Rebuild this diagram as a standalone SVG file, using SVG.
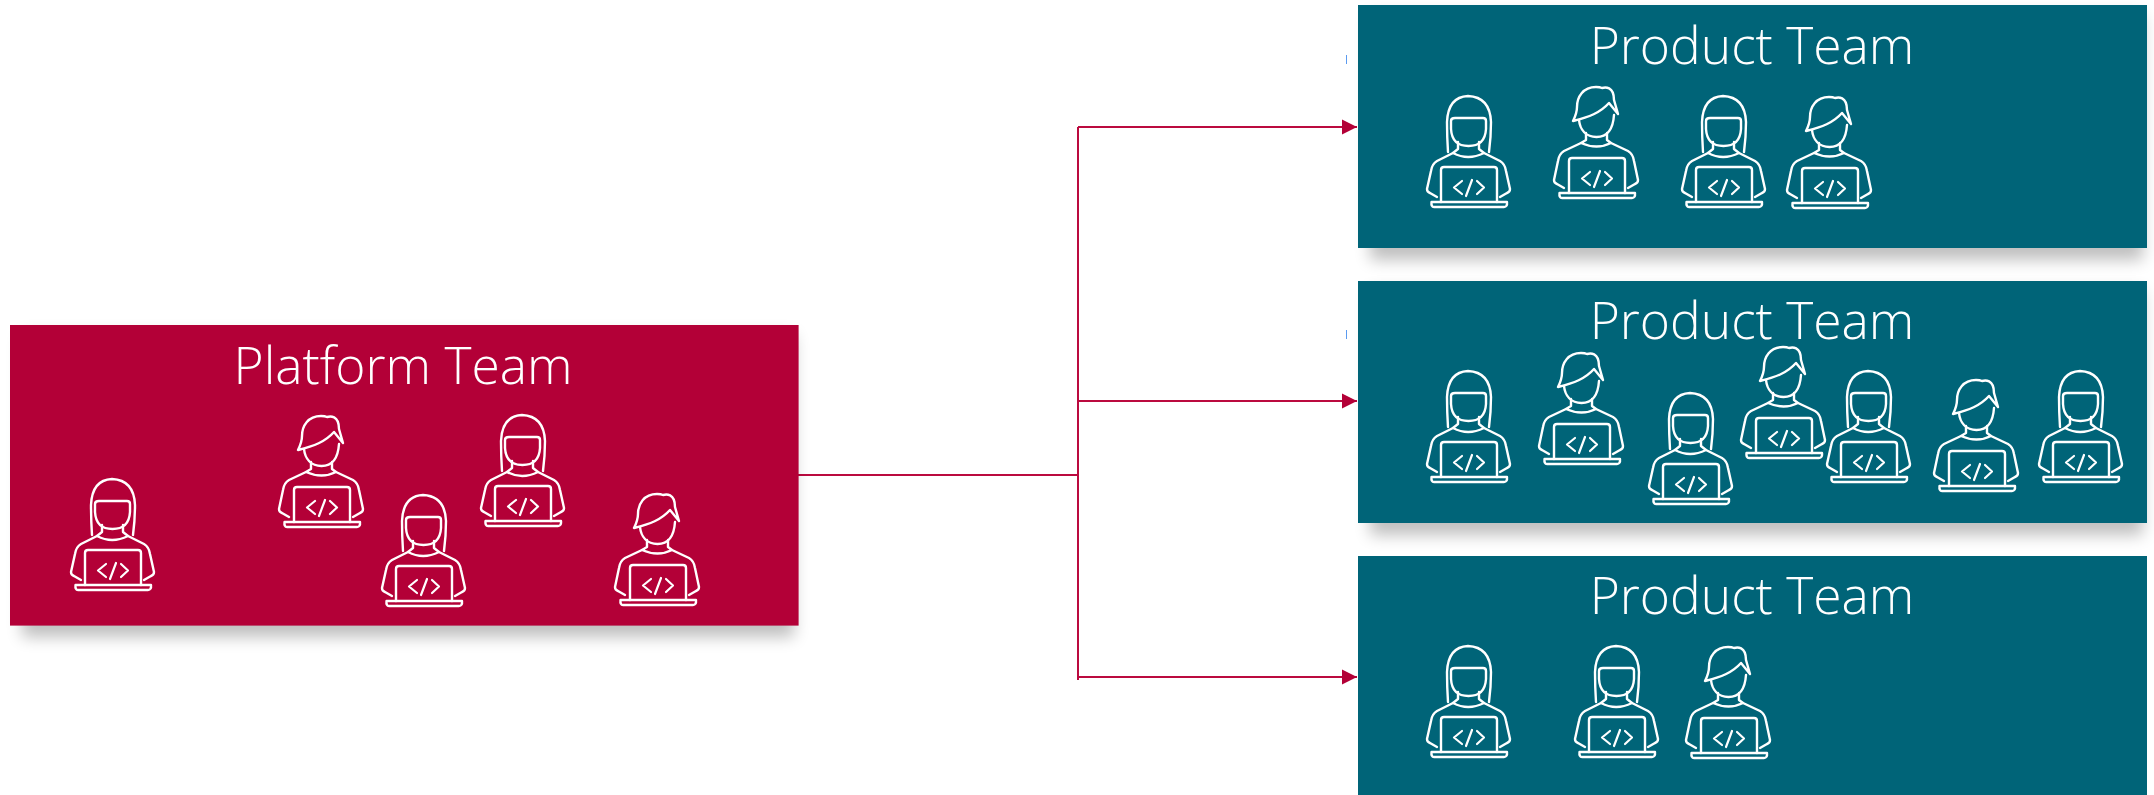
<svg xmlns="http://www.w3.org/2000/svg" width="2154" height="795" viewBox="0 0 2154 795">
<style>
.title{font-family:"Open Sans","Noto Sans",sans-serif;font-weight:300;font-size:51.500px;fill:#fff;text-anchor:middle}
.ic{fill:none;stroke:#fff;stroke-width:2.400;stroke-linecap:round;stroke-linejoin:round}
.plat{fill:#b30037}
.prod{fill:#006478}
.conn{fill:none;stroke:#bb0a3f;stroke-width:2}
.tick{stroke:#5b9bf0;stroke-width:1}
.shadow{fill:#000;opacity:.25}
</style>
<defs>
<filter id="sh" x="-5%" y="-10%" width="110%" height="130%"><feGaussianBlur stdDeviation="8"/></filter>
<marker id="ah" markerUnits="userSpaceOnUse" markerWidth="16" markerHeight="16" refX="15" refY="8" orient="auto"><path d="M0 0.500L15 8L0 15.500Z" fill="#b30037"/></marker>
<g id="laptop">
<path d="M35 125V93Q35 90 38 90H88Q91 90 91 93V125"/>
<path d="M25.500 125H101Q101.500 130 98 130H28Q25 130 25.500 125Z"/>
<path d="M56 104L48 110.500L56 117M60 119L66 103M71 104L78 110.500L71 117" stroke-width="2.200"/>
</g>
<g id="girl" class="ic">
<path d="M42 75Q41 60 41 45Q42 20 62 19Q84 20 85 45Q85 60 83 75"/>
<path d="M49 41H77Q80 41 80 44V52Q79 69 62.500 69Q46 69 45 52V44Q45 41 49 41Z"/>
<path d="M52 65V72L47 76Q62 84 78 76L73 72V65"/>
<path d="M47 76L31 84Q26 87 25 94L21 112Q21 115 24 116L31 120M78 76L94 84Q99 87 100 94L104 112Q104 115 101 116L94 120"/>
<use href="#laptop"/>
</g>
<g id="guy" class="ic">
<path d="M33 41C49 37 60 33 69 23L78 34L74 20C74 6 65 7 62 8Q60 7 56 7C43 7 37 17 37 27C37 32 35 37 33 41Z"/>
<path d="M39 40C40 50 46 57 56.500 57C67 57 73 50 74 35"/>
<path d="M46 53V60L41 63Q57 70 71 63L67 60V53"/>
<path d="M41 63L24 71Q19 74 18 81L14 100Q14 103 17 104L24 108M71 63L88 71Q93 74 94 81L98 100Q98 103 95 104L88 108"/>
<use href="#laptop" transform="translate(-6 -12)"/>
</g>
</defs>
<g id="connectors">
<path class="conn" d="M798 475H1078"/>
<path class="conn" d="M1078 127V680"/>
<path class="conn" d="M1078 127H1357" marker-end="url(#ah)"/>
<path class="conn" d="M1078 401H1357" marker-end="url(#ah)"/>
<path class="conn" d="M1078 677H1357" marker-end="url(#ah)"/>
<path class="tick" d="M1346.500 55V64M1346.500 330V339"/>
</g>
<g id="platform-team">
<rect class="shadow" x="22" y="335" width="772" height="302" filter="url(#sh)"/>
<rect class="plat" x="10" y="325" width="788.600" height="300.600"/>
<text class="title" x="403" y="383.500">Platform Team</text>
<use href="#girl" x="50" y="460"/><use href="#guy" x="265" y="409"/><use href="#girl" x="361" y="476"/><use href="#girl" x="460" y="396"/><use href="#guy" x="601" y="487"/>
</g>
<g id="product-team-1">
<rect class="shadow" x="1370" y="15" width="773" height="245" filter="url(#sh)"/>
<rect class="prod" x="1358" y="5" width="789" height="243"/>
<text class="title" x="1752" y="63.500">Product Team</text>
<use href="#girl" x="1406" y="77"/><use href="#guy" x="1540" y="80"/><use href="#girl" x="1661" y="77"/><use href="#guy" x="1773" y="90"/>
</g>
<g id="product-team-2">
<rect class="shadow" x="1370" y="291" width="773" height="244" filter="url(#sh)"/>
<rect class="prod" x="1358" y="281" width="789" height="242"/>
<text class="title" x="1752" y="338.500">Product Team</text>
<use href="#girl" x="1406" y="352"/><use href="#guy" x="1525" y="346"/><use href="#girl" x="1628" y="374"/><use href="#guy" x="1727" y="340"/><use href="#girl" x="1806" y="352"/><use href="#guy" x="1920" y="373"/><use href="#girl" x="2018" y="352"/>
</g>
<g id="product-team-3">
<rect class="prod" x="1358" y="556" width="789" height="239"/>
<text class="title" x="1752" y="613.500">Product Team</text>
<use href="#girl" x="1406" y="627"/><use href="#girl" x="1554" y="627"/><use href="#guy" x="1672" y="640"/>
</g>
</svg>
